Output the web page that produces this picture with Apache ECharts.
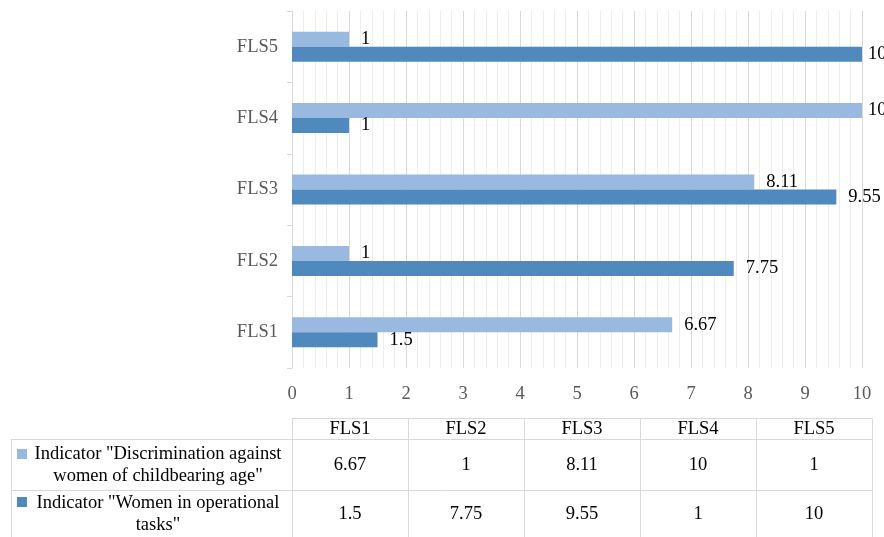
<!DOCTYPE html>
<html>
<head>
<meta charset="utf-8">
<script src="https://cdn.jsdelivr.net/npm/echarts@6/dist/echarts.min.js"></script>
<style>
  html, body { margin: 0; padding: 0; background: #ffffff; }
  #chart { width: 884px; height: 537px; }
</style>
</head>
<body>
<div id="chart"></div>
<script>
// Categories (bottom to top on the bar chart, left to right in the table)
const categories = ['FLS1', 'FLS2', 'FLS3', 'FLS4', 'FLS5'];

// Indicator names, as they wrap in the data table
const seriesNames = [
  'Indicator "Discrimination against\nwomen of childbearing age"',
  'Indicator "Women in operational\ntasks"'
];

// Indicator values per category
const discriminationValues = [6.67, 1, 8.11, 10, 1];
const operationalValues = [1.5, 7.75, 9.55, 1, 10];

// Value axis ticks
const xTicks = [0, 1, 2, 3, 4, 5, 6, 7, 8, 9, 10];

const seriesValues = [discriminationValues, operationalValues];
const seriesColors = ['#99B9E0', '#4F89BE'];

const FONT = 'Liberation Serif';
const FS = 18.5;
const W = 884, H = 537;

const chart = echarts.init(document.getElementById('chart'), null, { renderer: 'canvas' });

// Plot area geometry
const plotLeft = 292, plotRight = 862, plotTop = 11, plotBottom = 368;

// Data table geometry
const tblLeft = 11, tblHeadTop = 418.5, tblHeadBottom = 439.5, tblRow1Bottom = 490.5, tblBottom = 545;
const colW = 116;
const lineColor = '#D9D9D9';

const graphics = [];
function hLine(x1, x2, y) {
  graphics.push({ type: 'line', silent: true, shape: { x1: x1, y1: y, x2: x2, y2: y },
    style: { stroke: lineColor, lineWidth: 1 } });
}
function vLine(x, y1, y2) {
  graphics.push({ type: 'line', silent: true, shape: { x1: x, y1: y1, x2: x, y2: y2 },
    style: { stroke: lineColor, lineWidth: 1 } });
}
function text(str, x, y) {
  graphics.push({ type: 'text', silent: true, x: x, y: y,
    style: { text: str, fontFamily: FONT, fontSize: FS, fill: '#000000', align: 'center',
             verticalAlign: 'middle', lineHeight: 22 } });
}

const tblRight = plotLeft + colW * categories.length;
hLine(plotLeft, tblRight, tblHeadTop);
hLine(tblLeft, tblRight, tblHeadBottom);
hLine(tblLeft, tblRight, tblRow1Bottom);
vLine(tblLeft + 0.5, tblHeadBottom, tblBottom);
for (let i = 0; i <= categories.length; i++) {
  vLine(plotLeft + 0.5 + i * colW, tblHeadTop, tblBottom);
}

// Header row
categories.forEach(function (c, i) {
  text(c, plotLeft + colW * (i + 0.5), 429.5);
});

// Indicator rows: key, name, values
const rowCenters = [465.5, 514.5];
const keyTops = [449, 497];
seriesNames.forEach(function (name, r) {
  graphics.push({ type: 'rect', silent: true,
    shape: { x: 17, y: keyTops[r], width: 10, height: 10 },
    style: { fill: seriesColors[r] } });
  text(name, 158, rowCenters[r]);
  seriesValues[r].forEach(function (v, i) {
    text(String(v), plotLeft + colW * (i + 0.5), rowCenters[r] - 0.5);
  });
});

const option = {
  animation: false,
  backgroundColor: '#ffffff',
  grid: {
    left: plotLeft,
    right: W - plotRight,
    top: plotTop,
    bottom: H - plotBottom,
    containLabel: false
  },
  xAxis: {
    type: 'value',
    min: xTicks[0],
    max: xTicks[xTicks.length - 1],
    interval: 1,
    axisLine: { show: false },
    axisTick: { show: false },
    axisLabel: {
      color: '#595959', fontFamily: FONT, fontSize: FS, margin: 17
    },
    splitLine: { show: true, lineStyle: { color: '#D9D9D9', width: 1 } },
    minorTick: { show: false, splitNumber: 5 },
    minorSplitLine: { show: true, lineStyle: { color: '#EDEDED', width: 1 } }
  },
  yAxis: {
    type: 'category',
    data: categories,
    axisLine: { show: true, lineStyle: { color: '#D9D9D9', width: 1 } },
    axisTick: { show: true, length: 5, lineStyle: { color: '#D9D9D9' } },
    axisLabel: { color: '#595959', fontFamily: FONT, fontSize: FS, margin: 14 },
    splitLine: { show: false }
  },
  series: seriesNames.map(function (name, s) {
    return {
      name: name,
      type: 'bar',
      data: seriesValues[s],
      barWidth: 15,
      barGap: '0%',
      itemStyle: { color: seriesColors[s] },
      label: {
        show: true,
        position: 'right',
        distance: 12,
        color: '#000000',
        fontFamily: FONT,
        fontSize: FS
      },
      // keep value labels near the right edge from running too far off the canvas
      labelLayout: function (params) {
        const r = params.labelRect;
        if (r.x > W - 16) {
          return { x: W - 16, y: r.y + r.height / 2, align: 'left', verticalAlign: 'middle' };
        }
        return {};
      }
    };
  }),
  graphic: graphics
};

chart.setOption(option);
</script>
</body>
</html>
